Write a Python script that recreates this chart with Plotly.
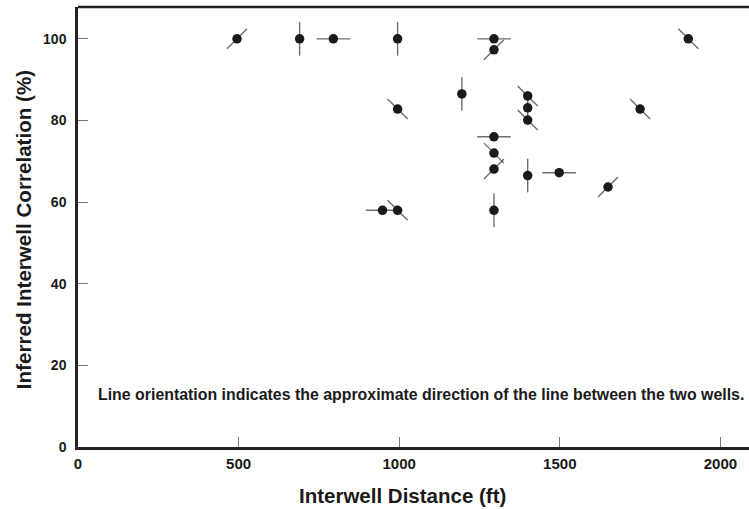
import plotly.graph_objects as go

# Interwell distance (ft), inferred correlation (%), line orientation (deg from east)
distance_ft = [495, 690, 795, 995, 1295, 1295, 1900, 1195, 995, 1400, 1400, 1400,
               1750, 1295, 1295, 1295, 1400, 1498, 1650, 948, 995, 1295]
correlation = [100, 100, 100, 100, 100, 97.3, 100, 86.5, 82.8, 86.0, 83.1, 80.1,
               82.8, 76.0, 72.0, 68.1, 66.5, 67.2, 63.7, 58.0, 58.0, 58.0]
orientation_deg = [45, 90, 0, 90, 0, 45, 135, 90, 135, 135, 90, 135,
                   135, 0, 135, 45, 90, 0, 45, 0, 135, 90]

x_ticks = [0, 500, 1000, 1500, 2000]
y_ticks = [0, 20, 40, 60, 80, 100]

sym_map = {0: "line-ew", 90: "line-ns", 45: "line-ne", 135: "line-nw"}
size_map = {0: 24, 90: 24, 45: 20, 135: 20}
symbols = [sym_map[o] for o in orientation_deg]
sizes = [size_map[o] for o in orientation_deg]

FONT = "Liberation Sans, Arial, sans-serif"

fig = go.Figure()
fig.add_trace(go.Scatter(
    x=distance_ft, y=correlation, mode="markers", hoverinfo="skip",
    marker=dict(symbol=symbols, size=sizes, color="#333333",
                line=dict(color="#333333", width=1.4)),
    showlegend=False))
fig.add_trace(go.Scatter(
    x=distance_ft, y=correlation, mode="markers",
    marker=dict(symbol="circle", size=9.5, color="#1a1a1a", line=dict(width=0)),
    showlegend=False))

fig.add_annotation(
    x=0.511, y=12.9, xref="paper", yref="y",
    text="<b>Line orientation indicates the approximate direction of the line between the two wells.</b>",
    showarrow=False, font=dict(family=FONT, size=15.9, color="#1a1a1a"),
    xanchor="center", yanchor="middle")

# axis titles
fig.add_annotation(
    x=0.483, y=-0.111, xref="paper", yref="paper",
    text="<b>Interwell Distance (ft)</b>", showarrow=False,
    font=dict(family=FONT, size=20.5, color="#1a1a1a"),
    xanchor="center", yanchor="middle")
fig.add_annotation(
    x=-0.082, y=0.495, xref="paper", yref="paper",
    text="<b>Inferred Interwell Correlation (%)</b>", showarrow=False, textangle=-90,
    font=dict(family=FONT, size=20.6, color="#1a1a1a"),
    xanchor="center", yanchor="middle")

# top frame line
fig.add_shape(type="line", xref="paper", yref="paper", x0=0, x1=1, y0=1, y1=1,
              line=dict(color="#222222", width=2.5))

fig.update_layout(
    width=749, height=509,
    margin=dict(l=78, r=0, t=7, b=62),
    paper_bgcolor="white", plot_bgcolor="white",
    font=dict(family=FONT, color="#1a1a1a"),
    xaxis=dict(range=[0, 2089], tickvals=x_ticks, ticks="inside", ticklen=10,
               tickcolor="#777777", tickwidth=1, showgrid=False, zeroline=False,
               showline=True, linecolor="#222222", linewidth=2.5,
               tickfont=dict(family=FONT, size=15, color="#1a1a1a", weight="bold"),
               ticklabelstandoff=1),
    yaxis=dict(range=[0, 107.8], tickvals=y_ticks, ticks="inside", ticklen=10,
               tickcolor="#777777", tickwidth=1, showgrid=False, zeroline=False,
               showline=True, linecolor="#222222", linewidth=2.5,
               tickfont=dict(family=FONT, size=14, color="#1a1a1a", weight="bold"),
               ticklabelstandoff=6),
)

fig.write_html("out.html")
